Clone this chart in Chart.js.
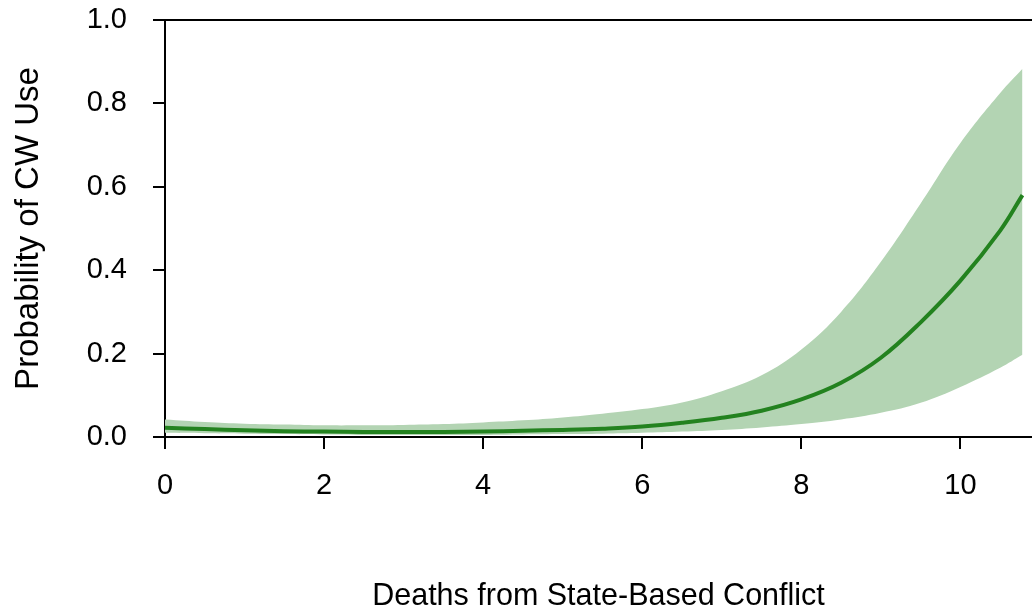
<!DOCTYPE html>
<html lang="en">
<head>
  <meta charset="UTF-8">
  <title>Probability of CW Use</title>
  <style>
    html, body { margin: 0; padding: 0; background: #fff; }
    #wrap { width: 1032px; height: 612px; }
  </style>
</head>
<body>
  <div id="wrap"><canvas id="myChart"></canvas></div>
  <script src="https://cdn.jsdelivr.net/npm/chart.js"></script>
  <script>
// values
const deaths = [0, 0.5, 1, 1.5, 2, 2.5, 3, 3.5, 4, 4.5, 5, 5.5, 6, 6.5, 7, 7.5, 8, 8.5, 9, 9.5, 10, 10.5, 10.78]
const prob = [0.022, 0.019, 0.016, 0.014, 0.013, 0.012, 0.012, 0.012, 0.013, 0.015, 0.017, 0.020, 0.025, 0.034, 0.046, 0.063, 0.090, 0.130, 0.190, 0.275, 0.375, 0.495, 0.58]
const upper = [0.042, 0.036, 0.032, 0.030, 0.028, 0.028, 0.029, 0.031, 0.035, 0.040, 0.047, 0.056, 0.067, 0.083, 0.110, 0.148, 0.210, 0.300, 0.420, 0.560, 0.705, 0.825, 0.883]
const lower = [0.010, 0.009, 0.008, 0.007, 0.006, 0.005, 0.005, 0.005, 0.005, 0.006, 0.007, 0.008, 0.010, 0.013, 0.017, 0.023, 0.031, 0.042, 0.058, 0.082, 0.120, 0.166, 0.197]
const xTicks = [0, 2, 4, 6, 8, 10]
const yTicks = [0, 0.2, 0.4, 0.6, 0.8, 1.0]

const pts = arr => deaths.map((x, i) => ({ x: x, y: arr[i] }))

// top border of the box (R style plot frame, right side is cut off)
const topLine = {
  id: 'topLine',
  afterDraw(chart) {
    const { ctx, chartArea } = chart
    ctx.save()
    ctx.strokeStyle = '#000'
    ctx.lineWidth = 2
    ctx.beginPath()
    ctx.moveTo(chartArea.left, chartArea.top)
    ctx.lineTo(chartArea.right, chartArea.top)
    ctx.stroke()
    ctx.restore()
  }
}

const ctx = document.getElementById('myChart')
const font = 'Liberation Sans, Arial, sans-serif'

new Chart(ctx, {
  type: 'line',
  data: {
    datasets: [
      {
        label: 'upper',
        data: pts(upper),
        borderWidth: 0,
        pointRadius: 0,
        tension: 0.4,
        fill: '+1',
        backgroundColor: '#b3d4b3',
        order: 2
      },
      {
        label: 'lower',
        data: pts(lower),
        borderWidth: 0,
        pointRadius: 0,
        tension: 0.4,
        fill: false,
        order: 3
      },
      {
        label: 'Probability',
        data: pts(prob),
        borderColor: '#23821f',
        borderWidth: 4,
        pointRadius: 0,
        tension: 0.4,
        fill: false,
        order: 1
      }
    ]
  },
  options: {
    responsive: true,
    maintainAspectRatio: false,
    animation: false,
    layout: { padding: { top: 20, right: 0, left: 0, bottom: 0 } },
    plugins: {
      legend: { display: false },
      tooltip: { enabled: false }
    },
    scales: {
      x: {
        type: 'linear',
        min: 0,
        max: 10.9,
        afterBuildTicks: scale => { scale.ticks = xTicks.map(v => ({ value: v })) },
        afterFit: scale => {
          scale.height = 175
          scale.paddingLeft = 0
          scale.paddingRight = 0
        },
        grid: { drawOnChartArea: false, tickLength: 12, color: '#000', lineWidth: 2 },
        border: { display: true, color: '#000', width: 2 },
        ticks: {
          color: '#000',
          padding: 20,
          maxRotation: 0,
          font: { family: font, size: 29 }
        },
        title: {
          display: true,
          text: 'Deaths from State-Based Conflict',
          color: '#000',
          padding: { top: 0, bottom: 0 },
          font: { family: font, size: 30.5, lineHeight: 1 }
        }
      },
      y: {
        min: 0,
        max: 1,
        afterBuildTicks: scale => { scale.ticks = yTicks.map(v => ({ value: v })) },
        afterFit: scale => {
          scale.width = 165
          scale.paddingTop = 0
          scale.paddingBottom = 0
        },
        grid: { drawOnChartArea: false, tickLength: 12, color: '#000', lineWidth: 2 },
        border: { display: true, color: '#000', width: 2 },
        ticks: {
          color: '#000',
          padding: 26,
          callback: v => v.toFixed(1),
          font: { family: font, size: 29 }
        },
        title: {
          display: true,
          text: 'Probability of CW Use',
          color: '#000',
          padding: { top: 12, bottom: 0 },
          font: { family: font, size: 33, lineHeight: 1 }
        }
      }
    }
  },
  plugins: [topLine]
})
  </script>
</body>
</html>
